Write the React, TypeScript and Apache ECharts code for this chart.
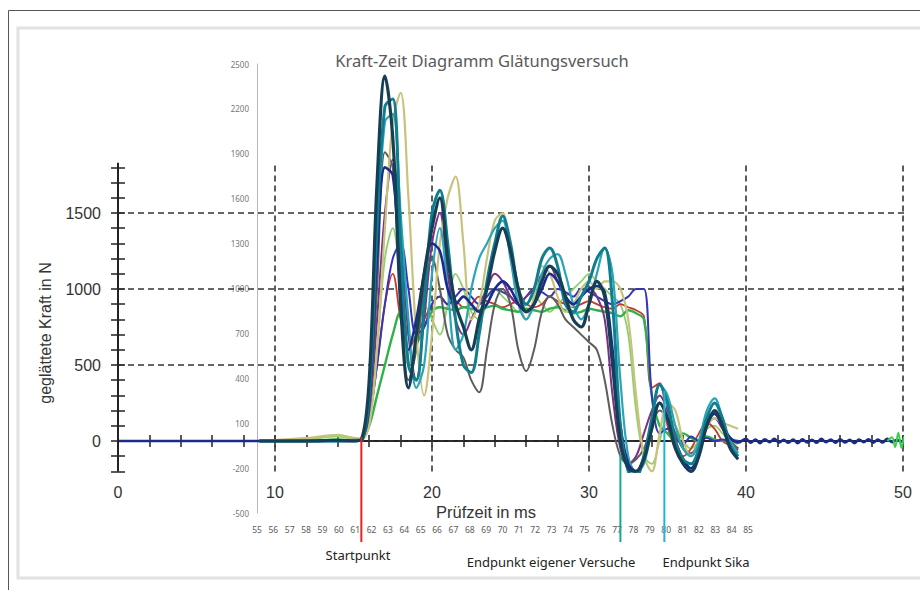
import React, { useEffect, useRef } from "react";
import * as echarts from "echarts";

// ---------- data ----------
const TITLE = "Kraft-Zeit Diagramm Glätungsversuch";
const X_NAME = "Prüfzeit in ms";
const Y_NAME = "geglättete Kraft in N";

const X_LABELS = [0, 10, 20, 30, 40, 50];
const X_TICKS = [0, 2, 4, 6, 8, 10, 12, 14, 16, 18, 20, 22, 24, 26, 28, 30, 32, 34, 36, 38, 40, 42, 44, 46, 48, 50];
const Y_LABELS = [0, 500, 1000, 1500];
const Y_TICKS = [-200, -100, 0, 100, 200, 300, 400, 500, 600, 700, 800, 900, 1000, 1100, 1200, 1300, 1400, 1500, 1600, 1700, 1800];
const GRID_X = [10, 20, 30, 40, 50];
const GRID_Y = [0, 500, 1000, 1500];

// secondary (overlaid spreadsheet) axis labels
const OVL_X = [55, 56, 57, 58, 59, 60, 61, 62, 63, 64, 65, 66, 67, 68, 69, 70, 71, 72, 73, 74, 75, 76, 77, 78, 79, 80, 81, 82, 83, 84, 85];
const OVL_Y = [-500, -200, 100, 400, 700, 1000, 1300, 1600, 1900, 2200, 2500];

// markers (ms)
const START_MS = 15.5;
const END_OWN_MS = 32.0;
const END_SIKA_MS = 34.8;

// time grid of the test curves (ms)
const TIME_MS = [9, 12, 14, 15, 15.5, 16, 16.5, 17, 17.5, 18, 18.5, 19, 19.5, 20, 20.5, 21, 21.5, 22, 22.5, 23, 23.5, 24, 24.5, 25, 25.5, 26, 26.5, 27, 27.5, 28, 28.5, 29, 29.5, 30, 30.5, 31, 31.5, 32, 32.5, 33, 33.5, 34, 34.5, 35, 35.5, 36, 36.5, 37, 37.5, 38, 38.5, 39, 39.5];

const DARK_SLATE = [0, 0, 5, 0, 10, 400, 1700, 2400, 2000, 900, 350, 700, 1100, 1400, 1600, 1200, 900, 750, 600, 800, 1000, 1250, 1400, 1250, 1000, 850, 900, 1050, 1150, 1100, 950, 800, 750, 900, 1050, 950, 500, 0, -180, -200, -120, 80, 250, 150, -50, -150, -200, -100, 100, 200, 100, -50, -120];
const TEAL = [0, 0, 0, 5, 10, 300, 1400, 2200, 2250, 1300, 500, 400, 900, 1500, 1650, 1300, 800, 500, 450, 700, 1050, 1300, 1480, 1300, 1000, 900, 1000, 1200, 1270, 1150, 900, 850, 950, 1050, 1200, 1270, 900, 100, -200, -230, -100, 150, 370, 250, 0, -120, -150, -50, 150, 250, 150, -30, -100];
const OLIVE = [0, 20, 40, 20, 15, 100, 600, 1400, 2100, 2290, 1600, 700, 300, 700, 1300, 1600, 1740, 1300, 800, 900, 1200, 1450, 1500, 1200, 950, 800, 950, 1150, 1100, 950, 850, 900, 1000, 1050, 1000, 1050, 1050, 1000, 800, 300, -100, -200, 50, 250, 200, 0, -100, 0, 100, 150, 120, 100, 80];
const DARK_GRAY = [0, 0, 0, 0, 5, 200, 1000, 1900, 1800, 900, 400, 600, 1000, 1200, 1000, 700, 600, 550, 400, 320, 600, 900, 1000, 900, 600, 460, 600, 850, 950, 900, 800, 750, 700, 650, 600, 400, 100, -100, -150, -120, -50, 100, 200, 150, 50, -50, -80, 0, 150, 180, 100, 0, -50];
const PURPLE = [0, 0, 0, 0, 5, 200, 800, 1500, 1850, 1400, 700, 400, 800, 1300, 1500, 1100, 800, 700, 800, 900, 1000, 1100, 1050, 950, 900, 950, 1000, 1100, 1150, 1050, 950, 900, 950, 1000, 950, 800, 300, -50, -150, -100, 50, 200, 300, 200, 50, -50, -100, -20, 100, 150, 80, 0, -50];
const BLUE = [0, 0, 0, 0, 5, 150, 500, 900, 1200, 1300, 1000, 700, 750, 900, 950, 900, 950, 1000, 950, 900, 950, 1000, 980, 950, 900, 950, 1000, 980, 950, 1000, 980, 950, 1000, 980, 950, 920, 900, 920, 950, 1000, 1000, 300, 50, 80, 20, -20, 30, 0, 20, 0, 10, 0, 0];
const GREEN = [0, 0, 10, 0, 5, 100, 300, 500, 700, 850, 700, 650, 750, 850, 880, 870, 860, 880, 870, 860, 880, 890, 870, 860, 850, 870, 860, 850, 870, 880, 860, 840, 850, 870, 860, 850, 840, 820, 860, 840, 800, 300, 100, 50, 0, 50, 20, 0, 30, 10, 0, 10, 0];
const RED = [0, 0, 0, 0, 5, 150, 500, 900, 1100, 800, 600, 700, 800, 900, 950, 900, 920, 880, 900, 950, 920, 900, 880, 900, 920, 900, 880, 900, 950, 920, 900, 880, 900, 920, 900, 880, 870, 900, 880, 860, 820, 350, 380, 100, -50, -100, -50, 50, 120, 80, 0, -30, -60];
const CYAN = [0, 0, 0, 0, 10, 300, 1300, 2100, 2150, 1500, 800, 350, 500, 1100, 1400, 1000, 600, 700, 1000, 1200, 1300, 1400, 1450, 1200, 900, 800, 900, 1100, 1200, 1230, 1100, 900, 800, 900, 1100, 1270, 1100, 400, -100, -200, -150, 100, 370, 300, 100, -50, -100, 0, 200, 280, 150, 0, -80];
const LIGHT_GREEN = [0, 10, 30, 10, 5, 150, 600, 1200, 1400, 1000, 500, 600, 900, 800, 700, 900, 1100, 1000, 850, 800, 900, 1000, 950, 900, 850, 900, 950, 900, 850, 900, 950, 1000, 1050, 1100, 1050, 1000, 950, 900, 700, 200, -100, -150, 0, 150, 100, 0, -50, 0, 80, 100, 50, 0, -20];

// smoothed reference curve over the full time range
const NAVY_TIME = [0, 5, 9, 12, 15, 15.5, 16, 16.5, 17, 17.5, 18, 18.5, 19, 19.5, 20, 20.5, 21, 21.5, 22, 22.5, 23, 23.5, 24, 24.5, 25, 25.5, 26, 26.5, 27, 27.5, 28, 28.5, 29, 29.5, 30, 30.5, 31, 31.5, 32, 32.5, 33, 33.5, 34, 34.5, 35, 35.5, 36, 36.5, 37, 37.5, 38, 38.5, 39, 39.5, 40, 40.3, 40.6, 40.9, 41.2, 41.5, 41.8, 42.1, 42.4, 42.7, 43, 43.3, 43.6, 43.9, 44.2, 44.5, 44.8, 45.1, 45.4, 45.7, 46, 46.3, 46.6, 46.9, 47.2, 47.5, 47.8, 48.1, 48.4, 48.7, 49, 49.3, 49.6, 50];
const NAVY = [0, 0, 0, 0, 0, 5, 250, 1200, 1800, 1750, 1100, 600, 800, 1100, 1300, 1250, 1000, 900, 950, 900, 850, 900, 1000, 1050, 1000, 900, 850, 900, 1000, 1100, 1050, 950, 900, 950, 1000, 1020, 980, 600, 100, -150, -200, -100, 100, 250, 150, 0, -120, -180, -80, 100, 180, 100, 20, -10, 15, -12, 10, -14, 12, -8, 14, -10, 8, -12, 10, -14, 12, -10, 8, -12, 14, -8, 10, -12, 12, -10, 8, -14, 10, -8, 12, -12, 10, -10, 14, -8, 6, -6];

const GREEN_END_TIME = [49.0, 49.3, 49.5, 49.7, 49.9, 50.1, 50.3];
const GREEN_END = [0, 25, -40, 55, -45, 30, 0];

// ---------- helpers ----------
const pair = (t: number[], v: number[]) => t.map((x, i) => [x, v[i]]);

const curve = (t: number[], v: number[], color: string, width: number, z: number) => ({
  type: "line",
  xAxisIndex: 0,
  yAxisIndex: 0,
  data: pair(t, v),
  smooth: 0.35,
  showSymbol: false,
  symbol: "none",
  silent: true,
  lineStyle: { color, width },
  z,
});

const seg = (data: number[][], color: string, width: number, dash: any, z: number) => ({
  type: "line",
  xAxisIndex: 0,
  yAxisIndex: 0,
  data,
  showSymbol: false,
  symbol: "none",
  silent: true,
  clip: false,
  lineStyle: { color, width, type: dash },
  z,
});

export default function App() {
  const ref = useRef<HTMLDivElement>(null);

  useEffect(() => {
    if (!ref.current) return;
    const chart = echarts.init(ref.current, undefined, { renderer: "svg" });

    const arial = "Liberation Sans, Arial, sans-serif";
    const calibri = "Noto Sans, Open Sans, sans-serif";

    const gridSeries: any[] = [];
    GRID_Y.forEach((y) => gridSeries.push(seg([[0, y], [50.6, y]], "#333", 1.6, [6, 4], 1)));
    GRID_X.forEach((x) => gridSeries.push(seg([[x, -200], [x, 1830]], "#333", 1.6, [6, 4], 1)));

    const option: any = {
      animation: false,
      backgroundColor: "#ffffff",
      grid: [
        { left: 118, right: 17, top: 61, bottom: 118.6, containLabel: false },
        { left: 257, right: 172, top: 64, bottom: 77, containLabel: false },
      ],
      xAxis: [
        {
          type: "value", gridIndex: 0, min: 0, max: 50, interval: 2,
          axisLine: { show: true, lineStyle: { color: "#222", width: 2 } },
          axisTick: { show: true, inside: false, length: 6, customValues: X_TICKS, lineStyle: { color: "#222", width: 1.5 } },
          axisLabel: {
            customValues: X_LABELS, margin: 13, fontSize: 16, color: "#333", fontFamily: arial,
            formatter: (v: number) => (X_LABELS.includes(v) ? String(v) : ""),
          },
          splitLine: { show: false },
        },
        {
          type: "value", gridIndex: 0, min: 0, max: 50, interval: 2, position: "bottom",
          axisLine: { show: false },
          axisTick: { show: true, inside: true, length: 6, customValues: X_TICKS, lineStyle: { color: "#222", width: 1.5 } },
          axisLabel: { show: false },
          splitLine: { show: false },
        },
        {
          type: "value", gridIndex: 1, min: 55, max: 85, interval: 1,
          axisLine: { show: false }, axisTick: { show: false },
          axisLabel: { customValues: OVL_X, margin: 12, fontSize: 8.5, color: "#5a5a5a", fontFamily: calibri, formatter: (v: number) => String(v) },
          splitLine: { show: false },
        },
      ],
      yAxis: [
        {
          type: "value", gridIndex: 0, min: -200, max: 2500, interval: 100, position: "left",
          axisLine: { show: false },
          axisTick: { show: true, inside: false, length: 7, customValues: Y_TICKS, lineStyle: { color: "#222", width: 1.5 } },
          axisLabel: {
            customValues: Y_LABELS, margin: 17, fontSize: 16, color: "#333", fontFamily: arial,
            formatter: (v: number) => (Y_LABELS.includes(v) ? String(v) : ""),
          },
          splitLine: { show: false },
        },
        {
          type: "value", gridIndex: 0, min: -200, max: 2500, interval: 100, position: "left",
          axisLine: { show: false },
          axisTick: { show: true, inside: true, length: 7, customValues: Y_TICKS, lineStyle: { color: "#222", width: 1.5 } },
          axisLabel: { show: false },
          splitLine: { show: false },
        },
        {
          type: "value", gridIndex: 1, min: -500, max: 2500, interval: 300, position: "left",
          axisLine: { show: true, lineStyle: { color: "#b8b8b8", width: 1 } },
          axisTick: { show: false },
          axisLabel: { customValues: OVL_Y, margin: 8, fontSize: 8, color: "#777", fontFamily: calibri, formatter: (v: number) => String(v) },
          splitLine: { show: false },
        },
      ],
      series: [
        ...gridSeries,
        curve(TIME_MS, LIGHT_GREEN, "#8fd06e", 1.8, 3),
        curve(TIME_MS, RED, "#c43a2e", 1.8, 3),
        curve(TIME_MS, GREEN, "#2db34a", 2.4, 3),
        curve(TIME_MS, BLUE, "#3535b8", 2, 3),
        curve(TIME_MS, PURPLE, "#7b2f86", 2, 3),
        curve(TIME_MS, DARK_GRAY, "#5d5d5d", 2, 3),
        curve(TIME_MS, OLIVE, "#c8c27c", 2.2, 3),
        curve(TIME_MS, CYAN, "#2aa5b7", 2.2, 4),
        curve(NAVY_TIME, NAVY, "#1b2a8f", 2.6, 4),
        curve(GREEN_END_TIME, GREEN_END, "#3bd04a", 2, 4),
        curve(TIME_MS, TEAL, "#0f7e8e", 3, 5),
        curve(TIME_MS, DARK_SLATE, "#163f55", 3.2, 5),
        // y axis line
        seg([[0, -200], [0, 1830]], "#222", 2, "solid", 6),
        // markers
        seg([[START_MS, 25], [START_MS, -665]], "#e8231f", 2, "solid", 7),
        seg([[END_OWN_MS, -90], [END_OWN_MS, -665]], "#19a88f", 2, "solid", 7),
        seg([[END_SIKA_MS, 330], [END_SIKA_MS, -665]], "#1db6d8", 2, "solid", 7),
      ],
      graphic: [
        { type: "polyline", silent: true, z: 100, shape: { points: [[8.5, 590], [8.5, 10.5], [920, 10.5]] }, style: { stroke: "#555", lineWidth: 1, fill: "none" } },
        { type: "rect", silent: true, z: 100, shape: { x: 18, y: 28, width: 910, height: 550 }, style: { stroke: "#e2e2e2", lineWidth: 3, fill: "none" } },
        { type: "text", silent: true, z: 100, x: 482, y: 60, style: { text: TITLE, font: `16.5px ${calibri}`, fill: "#595959", textAlign: "center", textVerticalAlign: "middle" } },
        { type: "text", silent: true, z: 100, x: 486, y: 512, style: { text: X_NAME, font: `16.5px ${arial}`, fill: "#333", textAlign: "center", textVerticalAlign: "middle" } },
        { type: "text", silent: true, z: 100, x: 45, y: 333, rotation: Math.PI / 2, style: { text: Y_NAME, font: `16px ${arial}`, fill: "#333", textAlign: "center", textVerticalAlign: "middle" } },
        { type: "text", silent: true, z: 100, x: 358, y: 555, style: { text: "Startpunkt", font: `13px ${calibri}`, fill: "#222", textAlign: "center", textVerticalAlign: "middle" } },
        { type: "text", silent: true, z: 100, x: 551, y: 562, style: { text: "Endpunkt eigener Versuche", font: `13px ${calibri}`, fill: "#222", textAlign: "center", textVerticalAlign: "middle" } },
        { type: "text", silent: true, z: 100, x: 706, y: 562, style: { text: "Endpunkt Sika", font: `13px ${calibri}`, fill: "#222", textAlign: "center", textVerticalAlign: "middle" } },
      ],
    };

    chart.setOption(option);
    return () => chart.dispose();
  }, []);

  return (
    <div
      ref={ref}
      style={{ position: "fixed", left: 0, top: 0, width: 920, height: 590, background: "#fff" }}
    />
  );
}
